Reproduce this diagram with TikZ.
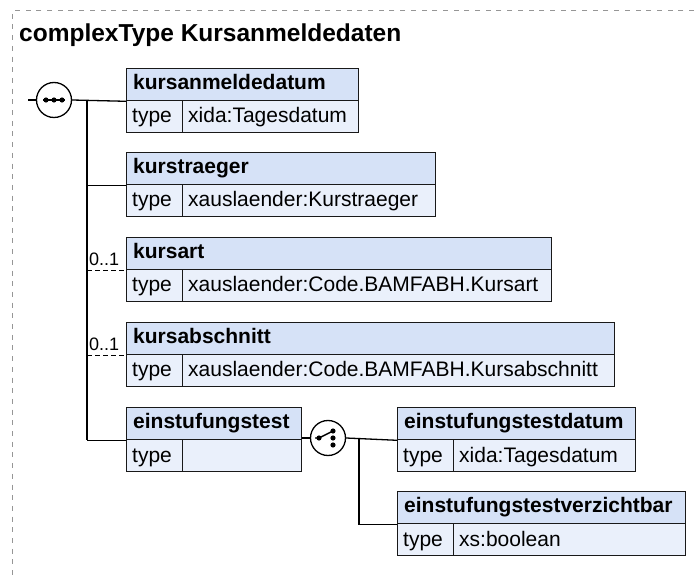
\documentclass[tikz,border=0pt]{standalone}
\usepackage{fontspec}
\setmainfont{Liberation Sans}
\usetikzlibrary{calc}
\definecolor{hdrblue}{RGB}{214,226,247}
\definecolor{cellblue}{RGB}{234,240,251}
\definecolor{framegray}{RGB}{150,150,150}
\tikzset{
  hdr/.style={draw=black!90, fill=hdrblue, line width=1.3pt, minimum height=32, inner sep=0pt, rectangle},
  cell/.style={draw=black!90, fill=cellblue, line width=1.3pt, minimum height=32, inner sep=0pt, rectangle},
  htxt/.style={font=\fontsize{21}{25}\selectfont\bfseries, inner sep=0pt},
  ctxt/.style={font=\fontsize{21}{25}\selectfont, inner sep=0pt},
  occ/.style={font=\fontsize{18}{21}\selectfont, inner sep=0pt},
  conn/.style={line width=1.3pt, draw=black},
  optconn/.style={line width=1.3pt, draw=black, dash pattern=on 5pt off 3pt},
  compositor/.style={circle, draw=black, fill=white, line width=1.3pt, minimum size=35, inner sep=0pt},
}
% name, left, top, width, title, value
\newcommand\elbox[6]{%
  \node[hdr, minimum width=#4, anchor=north west] (#1) at (#2,#3) {};
  \node[htxt, anchor=base west] (#1-l) at (#2+7,#3+21.5) {#5};
  \node[cell, minimum width=56, anchor=north west] (#1-t) at (#2,#3+32) {};
  \node[cell, minimum width=#4-56, anchor=north west] (#1-v) at (#2+56,#3+32) {};
  \node[ctxt, anchor=base west] (#1-tl) at (#2+6,#3+32+23) {type};
  \node[ctxt, anchor=base west] (#1-vl) at (#2+62,#3+32+23) {#6};
}
\begin{document}
\begin{tikzpicture}[x=1pt,y=-1pt]
\useasboundingbox (0,0) rectangle (694,577);
\fill[white] (0,0) rectangle (694,577);
\draw[framegray, line width=1pt, dash pattern=on 5pt off 5.7pt] (694,11) -- (12,11) -- (12,577);
\node[font=\fontsize{24.5}{29}\selectfont\bfseries, inner sep=0pt, anchor=base west] (title) at (19,42) {complexType Kursanmeldedaten};

% boxes
\elbox{b1}{126}{68}{232}{kursanmeldedatum}{xida:Tagesdatum}
\elbox{b2}{126}{152}{309}{kurstraeger}{xauslaender:Kurstraeger}
\elbox{b3}{126}{237}{425}{kursart}{xauslaender:Code.BAMFABH.Kursart}
\elbox{b4}{126}{322}{488}{kursabschnitt}{xauslaender:Code.BAMFABH.Kursabschnitt}
\elbox{b5}{126}{407}{175}{einstufungstest}{}
\elbox{b6}{397}{407}{238}{einstufungstestdatum}{xida:Tagesdatum}
\elbox{b7}{397}{491}{288}{einstufungstestverzichtbar}{xs:boolean}

% sequence compositor
\coordinate (start) at (28,100);
\node[compositor] (seq) at (54,100) {};
\coordinate (trunk) at (87,100);
\draw[conn] (start) -- (seq.west);
\draw[conn] (seq.east) -- (b1.south west);
\draw[conn] (trunk) -- (trunk |- b5.south west);
\draw[conn] (trunk |- b2.south west) -- (b2.south west);
\draw[optconn] (trunk |- b3.south west) -- (b3.south west);
\draw[optconn] (trunk |- b4.south west) -- (b4.south west);
\draw[conn] (trunk |- b5.south west) -- (b5.south west);
\draw[line width=1.2pt] ($(seq)+(-11,0)$) -- ($(seq)+(11,0)$);
\foreach \dx in {-8,0,8} \fill ($(seq)+(\dx,0)$) circle (2.6);

% occurrence labels
\node[occ, anchor=base west] (o3) at (89,266) {0..1};
\node[occ, anchor=base west] (o4) at (89,351) {0..1};

% choice compositor
\node[compositor] (ch) at (328,438) {};
\draw[conn] (b5.east |- ch) -- (ch.west);
\coordinate (branch) at (359,438);
\draw[conn] (ch.east) -- (b6.south west);
\draw[conn] (branch) -- (branch |- b7.south west) -- (b7.south west);
\draw[line width=1.4pt] ($(ch)+(-13,0)$) -- ($(ch)+(-9,0)$) -- ($(ch)+(5,-7)$);
\fill ($(ch)+(-9,0)$) circle (2.6);
\foreach \dy in {-7,0,7} \fill ($(ch)+(5,\dy)$) circle (2.6);
\end{tikzpicture}
\end{document}
